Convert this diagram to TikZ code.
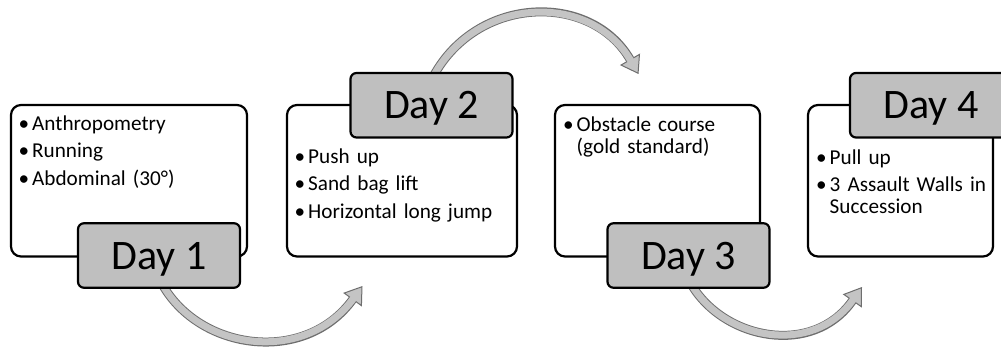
\documentclass[tikz,border=0pt]{standalone}
\usepackage{fontspec}
\setmainfont{Carlito}
\usetikzlibrary{arrows.meta,backgrounds}
\definecolor{dayfill}{RGB}{191,191,191}
\definecolor{arrowfill}{RGB}{196,196,196}
\definecolor{arrowline}{RGB}{110,110,110}
\newcommand{\bul}[1]{\hangindent=13.5pt\hangafter=1\makebox[13.5pt][l]{•}#1\par}
\tikzset{
 infobox/.style={draw=black, line width=2.2pt, rounded corners=10pt, fill=white, minimum height=151.5pt, inner sep=0pt},
 daybox/.style={draw=black, line width=2.2pt, rounded corners=6pt, fill=dayfill, minimum width=162pt, minimum height=64.5pt, inner sep=0pt, text depth=0pt, font=\fontsize{42}{46}\selectfont},
 itemtext/.style={anchor=base west, inner sep=0pt, text width=200pt, align=left, font=\fontsize{21.2}{21.5}\selectfont},
 arrowouter/.style={line width=9pt, color=arrowline, -{Triangle[length=17pt,width=23pt,line width=1pt,fill=arrowfill]}},
 arrowinner/.style={line width=7pt, color=arrowfill, shorten >=15pt},
}
\begin{document}
\begin{tikzpicture}[x=1pt,y=1pt]
\useasboundingbox (0,0) rectangle (1001,349);
% information boxes
\node[infobox, minimum width=236pt] (b1) at (129,168.25) {};
\node[infobox, minimum width=230pt] (b2) at (402,168.25) {};
\node[infobox, minimum width=205pt] (b3) at (657.5,168.25) {};
\node[infobox, minimum width=185pt] (b4) at (900.5,168.25) {};
% texts
\node[itemtext] (t1) at (18.5,219) {\setlength\parskip{6pt}\bul{Anthropometry}\bul{Running}\bul{Abdominal (30°)}};
\node[itemtext] (t2) at (294.5,186) {\setlength\parskip{6pt}\bul{Push up}\bul{Sand bag lift}\bul{Horizontal long jump}};
\node[itemtext] (t3) at (563,217.5) {\setlength\parskip{6pt}\bul{Obstacle course\newline (gold standard)}};
\node[itemtext] (t4) at (816,185) {\setlength\parskip{6pt}\bul{Pull up}\bul{3 Assault Walls in\newline Succession}};
% day boxes
\node[daybox] (d1) at (159,93.5) {Day 1};
\node[daybox] (d2) at (431.5,243.75) {Day 2};
\node[daybox] (d3) at (688.5,93.5) {Day 3};
\node[daybox] (d4) at (931,243.75) {Day 4};
% arrow ends
\coordinate (a1end) at (362.5,63);
\coordinate (a2end) at (638.5,275);
\coordinate (a3end) at (862,62);
\begin{pgfonlayer}{background}
\draw[arrowouter] ([xshift=3pt,yshift=5pt]d1.south) .. controls (199.5,-2) and (305,-16) .. (a1end);
\draw[arrowinner] ([xshift=3pt,yshift=5pt]d1.south) .. controls (199.5,-2) and (305,-16) .. (a1end);
\draw[arrowouter] ([xshift=1.5pt,yshift=-5pt]d2.north) .. controls (477.3,354.4) and (591.2,356.8) .. (a2end);
\draw[arrowinner] ([xshift=1.5pt,yshift=-5pt]d2.north) .. controls (477.3,354.4) and (591.2,356.8) .. (a2end);
\draw[arrowouter] ([xshift=2.5pt,yshift=5pt]d3.south) .. controls (723.8,9) and (813,-8) .. (a3end);
\draw[arrowinner] ([xshift=2.5pt,yshift=5pt]d3.south) .. controls (723.8,9) and (813,-8) .. (a3end);
\end{pgfonlayer}
\end{tikzpicture}
\end{document}
